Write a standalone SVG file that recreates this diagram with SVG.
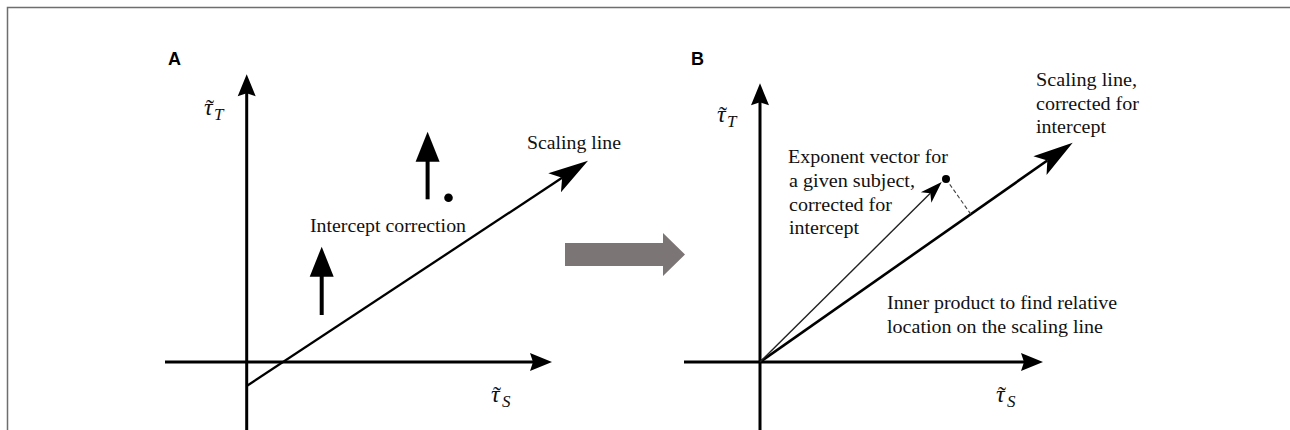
<svg xmlns="http://www.w3.org/2000/svg" width="1290" height="430" viewBox="0 0 1290 430">
<style>
.lbl{font-family:"Liberation Serif","Times New Roman",serif;font-size:18px;fill:#111}
.panel{font-family:"Liberation Sans",Arial,sans-serif;font-weight:bold;font-size:18px;fill:#000}
.math{font-family:"Liberation Serif","Times New Roman",serif;font-style:italic;fill:#111}
.tau{font-size:24px}
.sub{font-size:17px}
.tld{font-family:"Liberation Serif","Times New Roman",serif;font-size:24px;fill:#111}
.axis{stroke:#000;stroke-width:3;fill:none}
.thick{stroke:#000;stroke-width:4;fill:none}
.line{stroke:#000;stroke-width:2.3;fill:none}
.thin{stroke:#222;stroke-width:1.4;fill:none}
.dash{stroke:#444;stroke-width:1.1;stroke-dasharray:4 2.5;fill:none}
.frame{stroke:#6e6e6e;stroke-width:1.5;fill:none}
.head{fill:#000}
</style>
<defs>
<path id="axHead" d="M0,0 L-22,-9 L-19,0 L-22,9 Z"/>
<path id="bigHead" d="M0,0 L-40,-11.5 L-31,0 L-40,11.5 Z"/>
<path id="upHead" d="M0,0 L-30,-12 L-30,12 Z"/>
<path id="smallHead" d="M0,0 L-22,-7.5 L-16,0 L-22,7.5 Z"/>
</defs>

<g id="frame">
<path class="frame" d="M7.5,430 L7.5,7.5 L1290,7.5"/>
</g>

<g id="panelA-label"><text class="panel" x="168" y="65">A</text></g>
<g id="panelB-label"><text class="panel" x="691" y="65">B</text></g>

<g id="connectors">
<!-- Panel A axes -->
<line class="axis" x1="246.7" y1="430" x2="246.7" y2="93"/>
<use href="#axHead" class="head" transform="translate(246.7,74.3) rotate(-90)"/>
<line class="axis" x1="165" y1="362" x2="533" y2="362"/>
<use href="#axHead" class="head" transform="translate(552,362)"/>
<!-- Panel A scaling line -->
<line class="line" x1="246.7" y1="386" x2="562.1" y2="177.8"/>
<use href="#bigHead" class="head" transform="translate(588,160.7) rotate(-33.43)"/>
<!-- Intercept correction arrows -->
<line class="thick" x1="427.6" y1="199.3" x2="427.6" y2="160"/>
<use href="#upHead" class="head" transform="translate(427.6,131.7) rotate(-90)"/>
<line class="thick" x1="321.7" y1="315" x2="321.7" y2="275"/>
<use href="#upHead" class="head" transform="translate(321.7,246.7) rotate(-90)"/>
<!-- Transition arrow -->
<polygon fill="#7b7675" points="565,243 663,243 663,233 685,254.5 663,276 663,266 565,266"/>
<!-- Panel B axes -->
<line class="axis" x1="760" y1="430" x2="760" y2="102"/>
<use href="#axHead" class="head" transform="translate(760,83.3) rotate(-90)"/>
<line class="axis" x1="684" y1="362" x2="1024" y2="362"/>
<use href="#axHead" class="head" transform="translate(1043,362)"/>
<!-- Panel B scaling line -->
<line class="line" x1="760" y1="362" x2="1047.3" y2="160.5" style="stroke-width:2.6"/>
<use href="#bigHead" class="head" transform="translate(1072.7,142.7) rotate(-35.04)"/>
<!-- Exponent vector -->
<line class="thin" x1="760" y1="362" x2="930.3" y2="193.3"/>
<use href="#smallHead" class="head" transform="translate(941.7,182) rotate(-44.73)"/>
<!-- Projection -->
<line class="dash" x1="946" y1="179" x2="970.8" y2="214.2"/>
</g>

<g id="pointA"><circle cx="448.5" cy="197.7" r="4.3" fill="#000"/></g>
<g id="pointB"><circle cx="946" cy="179" r="4" fill="#000"/></g>

<g id="labelA-tauT">
<text class="tld" x="206" y="116">˜</text>
<text class="math tau" x="204" y="115">τ</text>
<text class="math sub" x="214" y="120">T</text>
</g>
<g id="labelA-tauS">
<text class="tld" x="493" y="403">˜</text>
<text class="math tau" x="491" y="402">τ</text>
<text class="math sub" x="502" y="407">S</text>
</g>
<g id="labelB-tauT">
<text class="tld" x="719" y="123">˜</text>
<text class="math tau" x="717" y="122">τ</text>
<text class="math sub" x="727" y="127">T</text>
</g>
<g id="labelB-tauS">
<text class="tld" x="998" y="403">˜</text>
<text class="math tau" x="996" y="402">τ</text>
<text class="math sub" x="1007" y="407">S</text>
</g>

<g id="labelA-scaling"><text class="lbl" x="527" y="149" textLength="94" lengthAdjust="spacingAndGlyphs">Scaling line</text></g>
<g id="labelA-intercept"><text class="lbl" x="310" y="232" textLength="156" lengthAdjust="spacingAndGlyphs">Intercept correction</text></g>

<g id="labelB-scaling">
<text class="lbl" x="1036" y="86" textLength="101" lengthAdjust="spacingAndGlyphs">Scaling line,</text>
<text class="lbl" x="1036" y="110" textLength="103" lengthAdjust="spacingAndGlyphs">corrected for</text>
<text class="lbl" x="1036" y="133" textLength="70" lengthAdjust="spacingAndGlyphs">intercept</text>
</g>
<g id="labelB-exponent">
<text class="lbl" x="788" y="163" textLength="160" lengthAdjust="spacingAndGlyphs">Exponent vector for</text>
<text class="lbl" x="789" y="187" textLength="126" lengthAdjust="spacingAndGlyphs">a given subject,</text>
<text class="lbl" x="789" y="211" textLength="103" lengthAdjust="spacingAndGlyphs">corrected for</text>
<text class="lbl" x="789" y="234" textLength="70" lengthAdjust="spacingAndGlyphs">intercept</text>
</g>
<g id="labelB-inner">
<text class="lbl" x="887" y="309" textLength="230" lengthAdjust="spacingAndGlyphs">Inner product to find relative</text>
<text class="lbl" x="887" y="333" textLength="216" lengthAdjust="spacingAndGlyphs">location on the scaling line</text>
</g>
</svg>
